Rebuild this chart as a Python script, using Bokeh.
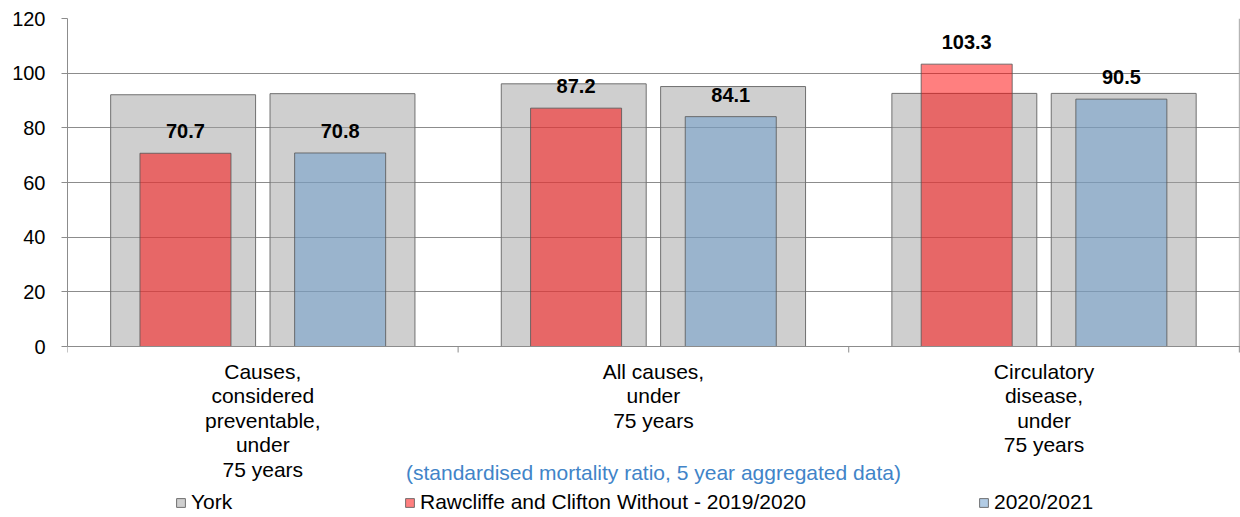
import math
from bokeh.plotting import figure
from bokeh.models import (ColumnDataSource, Range1d, FixedTicker, Legend, LegendItem, Label, Span)
from bokeh.core.properties import value
from bokeh.embed import file_html
from bokeh.resources import INLINE

categories = ["Causes,\nconsidered\npreventable,\nunder\n75 years",
              "All causes,\nunder\n75 years",
              "Circulatory\ndisease,\nunder\n75 years"]
york_a = [92.1, 96.1, 92.6]      # York (behind first bar)
york_b = [92.5, 95.1, 92.6]      # York (behind second bar)
ward_2019 = [70.7, 87.2, 103.3]  # Rawcliffe and Clifton Without - 2019/2020
ward_2020 = [70.8, 84.1, 90.5]   # 2020/2021
labels_2019 = ["70.7", "87.2", "103.3"]
labels_2020 = ["70.8", "84.1", "90.5"]
y_ticks = [0, 20, 40, 60, 80, 100, 120]
subtitle = "(standardised mortality ratio, 5 year aggregated data)"
legend_labels = ["York", "Rawcliffe and Clifton Without - 2019/2020", "2020/2021"]

FONT = "Liberation Sans"
GREY = "#8c8c8c"
TXT = "21px"

n = len(categories)
centers = [i + 0.5 for i in range(n)]
src = ColumnDataSource(dict(
    xa=[c - 0.204 for c in centers], xb=[c + 0.204 for c in centers],
    xr=[c - 0.198 for c in centers], xl=[c + 0.198 for c in centers],
    york_a=york_a, york_b=york_b, w19=ward_2019, w20=ward_2020,
    l19=labels_2019, l20=labels_2020))
cat_src = ColumnDataSource(dict(x=centers, y=[0] * n, t=categories))

H, TOP, BOT = 517, 18, 0
frame_h = H - TOP - BOT
px_per_unit = 328 / 120.0
y_start = 120 - frame_h / px_per_unit

p = figure(width=1240, height=H, output_backend="svg", toolbar_location=None,
           x_range=Range1d(0, 3.003), y_range=Range1d(y_start, 120),
           min_border_left=67, min_border_right=0, min_border_top=TOP, min_border_bottom=BOT)
p.outline_line_color = None
p.xaxis.visible = False

# grid
p.xgrid.visible = False
p.ygrid.grid_line_color = GREY
p.ygrid.ticker = FixedTicker(ticks=y_ticks)

# y axis
p.yaxis.ticker = FixedTicker(ticks=y_ticks)
p.yaxis.bounds = (0, 120)
p.yaxis.axis_line_color = GREY
p.yaxis.major_tick_line_color = GREY
p.yaxis.major_tick_out = 6
p.yaxis.major_tick_in = 0
p.yaxis.minor_tick_line_color = None
p.yaxis.major_label_standoff = 16
p.yaxis.major_label_text_font = FONT
p.yaxis.major_label_text_font_size = "20px"
p.yaxis.major_label_text_color = "black"

# x axis line, category boundary ticks, right border
p.add_layout(Span(location=0, dimension="width", line_color=GREY, line_width=1))
bounds = list(range(n + 1))
p.segment(x0=bounds, y0=[0] * (n + 1), x1=bounds, y1=[-6 / px_per_unit] * (n + 1),
          line_color=GREY, line_width=1)
p.segment(x0=[n], y0=[0], x1=[n], y1=[120], line_color="#a6a6a6", line_width=1)

# bars
r_ya = p.vbar(x="xa", top="york_a", width=0.371, source=src,
              fill_color="#a0a0a0", fill_alpha=0.5, line_color="#707070", line_width=1)
r_yb = p.vbar(x="xb", top="york_b", width=0.371, source=src,
              fill_color="#a0a0a0", fill_alpha=0.5, line_color="#707070", line_width=1)
r_19 = p.vbar(x="xr", top="w19", width=0.233, source=src,
              fill_color="#ff0000", fill_alpha=0.5, line_color="#555555", line_alpha=0.8, line_width=1)
r_20 = p.vbar(x="xl", top="w20", width=0.233, source=src,
              fill_color="#6699cc", fill_alpha=0.5, line_color="#555555", line_alpha=0.8, line_width=1)

# value labels
for xcol, ycol, tcol in [("xr", "w19", "l19"), ("xl", "w20", "l20")]:
    p.text(x=xcol, y=ycol, text=tcol, source=src, text_align="center",
           text_baseline="alphabetic", y_offset=-22,
           text_font=value(FONT), text_font_size="20px", text_font_style="bold",
           text_color="black")

# category labels
p.text(x="x", y="y", text="t", source=cat_src, text_align="center", text_baseline="top",
       y_offset=13, text_font=value(FONT), text_font_size=TXT, text_line_height=1.066,
       text_color="black")

# subtitle
p.add_layout(Label(x=1.5, y=-126 / px_per_unit, text=subtitle,
                   text_align="center", text_baseline="middle", text_font=FONT,
                   text_font_size=TXT, text_color="#4184c8"))

# legends
for lab, rend, lx in zip(legend_labels, [r_ya, r_19, r_20], [108, 337, 911]):
    lg = Legend(items=[LegendItem(label=lab, renderers=[rend])], location=(lx, 3),
                orientation="horizontal", padding=0, margin=0, spacing=0,
                glyph_width=11, glyph_height=11, label_standoff=5,
                label_text_font=FONT, label_text_font_size=TXT, label_text_color="black",
                border_line_color=None, background_fill_alpha=0)
    p.add_layout(lg)

open("out.html", "w").write(file_html(p, INLINE))
